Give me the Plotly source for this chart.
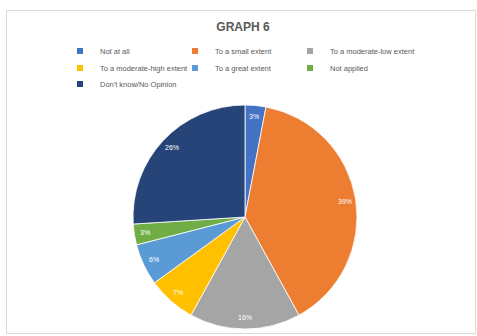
import math
import plotly.graph_objects as go

# Survey answers and their shares (%)
categories = [
    "Not at all",
    "To a small extent",
    "To a moderate-low extent",
    "To a moderate-high extent",
    "To a great extent",
    "Not applied",
    "Don't know/No Opinion",
]
shares = [3, 39, 16, 7, 6, 3, 26]
palette = ["#4472C4", "#ED7D31", "#A5A5A5", "#FFC000", "#5B9BD5", "#70AD47", "#264478"]

W, H = 477, 336
M = dict(l=60, r=0, t=0, b=0)
pw = W - M["l"] - M["r"]
ph = H - M["t"] - M["b"]

# pie centre / radius in page pixels
CX, CY, R = 245, 217, 112
dom_x = [(CX - R - M["l"]) / pw, (CX + R - M["l"]) / pw]
dom_y = [(H - M["b"] - CY - R) / ph, (H - M["b"] - CY + R) / ph]

fig = go.Figure()
fig.add_trace(go.Pie(
    labels=categories,
    values=shares,
    sort=False,
    direction="clockwise",
    rotation=0,
    marker=dict(colors=palette, line=dict(color="white", width=0.8)),
    textinfo="none",
    hoverinfo="label+percent",
    showlegend=False,
    domain=dict(x=dom_x, y=dom_y),
))

# legend entries: three per row, one legend per row;
# the last column gets extra room so its text is not cut
legend_names = ["legend", "legend2", "legend3"]
for i, (cat, col) in enumerate(zip(categories, palette)):
    last_in_row = (i % 3 == 2) or (i == len(categories) - 1)
    fig.add_trace(go.Scatter(
        x=[None], y=[None], mode="markers", name=cat,
        marker=dict(symbol="square", size=6, color=col),
        legend=legend_names[i // 3], showlegend=True, hoverinfo="skip",
        legendwidth=110 if last_in_row else 70,
    ))

# percentage labels placed near the rim, at each slice's mid-angle
total = sum(shares)
annotations = []
cum = 0
for v in shares:
    theta = 2 * math.pi * (cum + v / 2) / total
    cum += v
    px = CX + 0.9 * R * math.sin(theta)
    py = CY - 0.9 * R * math.cos(theta)
    annotations.append(dict(
        x=(px - M["l"]) / pw, y=(H - M["b"] - py) / ph,
        xref="paper", yref="paper", xanchor="center", yanchor="middle",
        showarrow=False,
        text=f"{round(100 * v / total)}%",
        font=dict(family="Liberation Sans", size=7, color="white"),
    ))

row_y = [51, 68, 84]
legend_common = dict(
    orientation="h", xanchor="left", yanchor="middle",
    x=(60 - M["l"]) / pw, entrywidthmode="pixels",
    bgcolor="rgba(0,0,0,0)", borderwidth=0, itemclick=False,
    font=dict(family="Liberation Sans", size=7.5, color="#595959"),
)
legends = {}
for name, yy in zip(legend_names, row_y):
    legends[name] = dict(legend_common, y=(H - M["b"] - yy) / ph)

fig.update_layout(
    width=W, height=H,
    margin=dict(M, pad=0),
    paper_bgcolor="white", plot_bgcolor="white",
    title=dict(
        text="<b>GRAPH 6</b>", xref="container", yref="container",
        x=243 / W, y=1 - 27 / H, xanchor="center", yanchor="middle",
        font=dict(family="Liberation Sans", size=12, color="#595959"),
    ),
    xaxis=dict(visible=False), yaxis=dict(visible=False),
    annotations=annotations,
    shapes=[dict(
        type="rect", xref="paper", yref="paper",
        x0=(6.5 - M["l"]) / pw, x1=(475.5 - M["l"]) / pw,
        y0=(H - M["b"] - 333.5) / ph, y1=(H - M["b"] - 10.5) / ph,
        line=dict(color="#D9D9D9", width=1), layer="below",
    )],
    **legends,
)

fig.write_html("out.html")
